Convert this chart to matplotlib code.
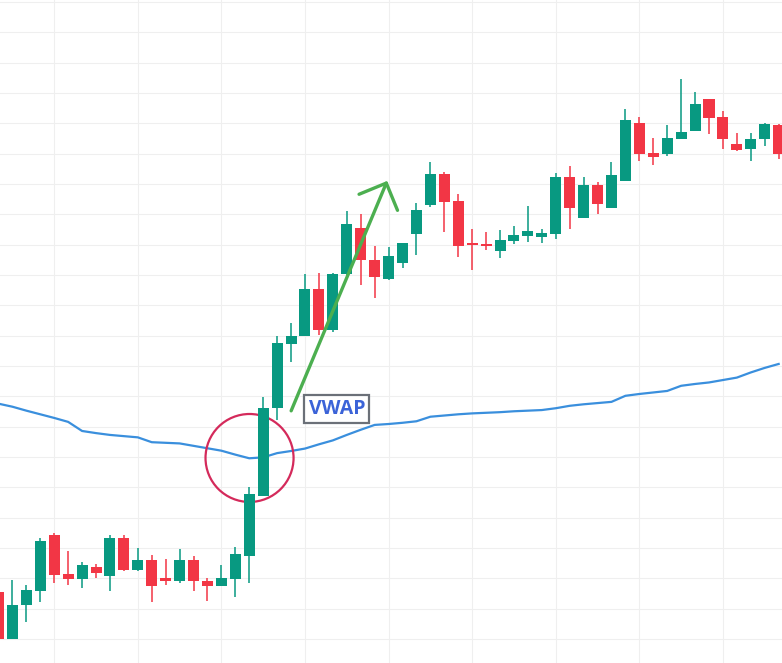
import matplotlib
matplotlib.use("Agg")
import matplotlib.pyplot as plt
from matplotlib.patches import Ellipse, FancyArrowPatch

# candle data (open, high, low, close), one entry per bar
opens = [41.56, 40.01, 41.12, 41.59, 43.43, 42.14, 41.99, 42.37, 42.08, 43.33,
         42.27, 42.60, 42.02, 41.91, 42.60, 41.91, 41.76, 41.99, 42.75, 44.73,
         47.61, 49.72, 50.00, 51.53, 50.19, 52.02, 53.54, 52.50, 51.86, 52.41,
         53.34, 54.30, 55.33, 54.44, 53.05, 53.02, 52.81, 53.14, 53.29, 53.26,
         53.35, 55.23, 53.89, 54.97, 54.22, 55.11, 57.01, 56.01, 55.99, 56.50,
         56.76, 57.80, 57.21, 56.32, 56.16, 56.50, 56.95]
highs = [41.60, 41.95, 41.78, 43.33, 43.49, 42.90, 42.54, 42.47, 43.43, 43.43,
         43.00, 42.77, 42.64, 42.97, 42.74, 42.01, 42.44, 43.03, 45.02, 47.99,
         50.00, 50.41, 52.03, 52.08, 52.07, 54.11, 54.01, 52.97, 52.91, 53.06,
         54.37, 55.72, 55.41, 54.69, 53.52, 53.42, 53.49, 53.62, 54.28, 53.51,
         55.35, 55.60, 55.23, 55.06, 55.72, 57.47, 57.20, 56.51, 56.95, 58.46,
         58.03, 57.80, 57.41, 56.68, 56.68, 57.02, 56.99]
lows = [40.00, 40.00, 40.57, 41.23, 41.86, 41.78, 41.69, 42.02, 41.59, 42.25,
        42.24, 41.23, 41.79, 41.86, 41.59, 41.26, 41.75, 41.39, 41.84, 44.71,
        47.22, 49.14, 49.99, 50.02, 50.13, 52.00, 51.67, 51.23, 51.84, 52.22,
        52.66, 54.23, 53.43, 52.60, 52.17, 52.83, 52.55, 53.02, 53.10, 53.07,
        53.19, 53.52, 53.88, 54.01, 54.21, 55.10, 55.77, 55.64, 55.93, 56.49,
        56.75, 56.64, 56.16, 56.10, 55.77, 56.26, 55.83]
closes = [40.01, 41.12, 41.62, 43.24, 42.11, 41.98, 42.44, 42.19, 43.33, 42.28,
          42.60, 41.75, 41.92, 42.60, 41.92, 41.76, 42.01, 42.80, 44.78, 47.61,
          49.75, 50.00, 51.53, 50.19, 52.03, 53.68, 52.50, 51.93, 52.63, 53.05,
          54.14, 55.33, 54.42, 52.97, 53.00, 52.96, 53.16, 53.32, 53.45, 53.40,
          55.24, 54.22, 54.97, 54.35, 55.30, 57.11, 56.00, 55.90, 56.52, 56.72,
          57.65, 57.19, 56.50, 56.12, 56.49, 56.99, 56.00]
vwap = [47.76, 47.66, 47.53, 47.41, 47.29, 47.16, 46.86, 46.79, 46.73, 46.69,
        46.65, 46.49, 46.47, 46.45, 46.37, 46.29, 46.21, 46.08, 45.96, 45.99,
        46.13, 46.20, 46.28, 46.42, 46.55, 46.73, 46.90, 47.06, 47.09, 47.13,
        47.18, 47.33, 47.37, 47.41, 47.44, 47.46, 47.48, 47.51, 47.53, 47.55,
        47.61, 47.69, 47.74, 47.78, 47.82, 48.02, 48.08, 48.13, 48.18, 48.35,
        48.41, 48.46, 48.54, 48.62, 48.79, 48.94, 49.07]

label_text = "VWAP"

UP = "#089981"
DOWN = "#f23645"

fig = plt.figure(figsize=(7.82, 6.63), dpi=100)
ax = fig.add_axes([0, 0, 1, 1])

idx = list(range(len(opens)))

# grid
ax.set_xticks(range(4, 57, 6))
ax.set_yticks(range(40, 62))
ax.grid(True, color="#efefef", linewidth=0.8)
ax.set_axisbelow(True)
ax.tick_params(length=0, labelbottom=False, labelleft=False)
for s in ax.spines.values():
    s.set_visible(False)

# vwap line
ax.plot(idx, vwap, color="#3a8fdd", linewidth=1.6, zorder=2)

# circle around the cross
ax.add_patch(Ellipse((18.02, 45.97), width=6.32, height=2.90, fill=False,
                     edgecolor="#d42a5b", linewidth=1.6, zorder=2.5))

# candles
colors = [UP if c >= o else DOWN for o, c in zip(opens, closes)]
bottoms = [min(o, c) for o, c in zip(opens, closes)]
heights = [max(abs(c - o), 0.04) for o, c in zip(opens, closes)]
ax.vlines(idx, lows, highs, colors=colors, linewidth=1.1, zorder=3)
ax.bar(idx, heights, bottom=bottoms, width=0.79, color=colors, zorder=3)

# trend arrow
arrow = FancyArrowPatch((20.93, 47.44), (27.98, 55.19),
                        arrowstyle="->,head_length=15,head_width=15",
                        mutation_scale=1, color="#4caf50", linewidth=2.4,
                        capstyle="round", joinstyle="round", zorder=4)
ax.add_patch(arrow)

# label
ax.text(24.28, 47.58, label_text, ha="center", va="center",
        fontsize=14, fontweight="bold", family=["Open Sans", "DejaVu Sans"],
        color="#3b63d8", zorder=5,
        bbox=dict(boxstyle="square,pad=0.22", facecolor="white",
                  edgecolor="#6b7078", linewidth=1.6))

ax.set_xlim(0.108, 56.24)
ax.set_ylim(39.21, 61.07)

fig.savefig("out.png", dpi=100)
